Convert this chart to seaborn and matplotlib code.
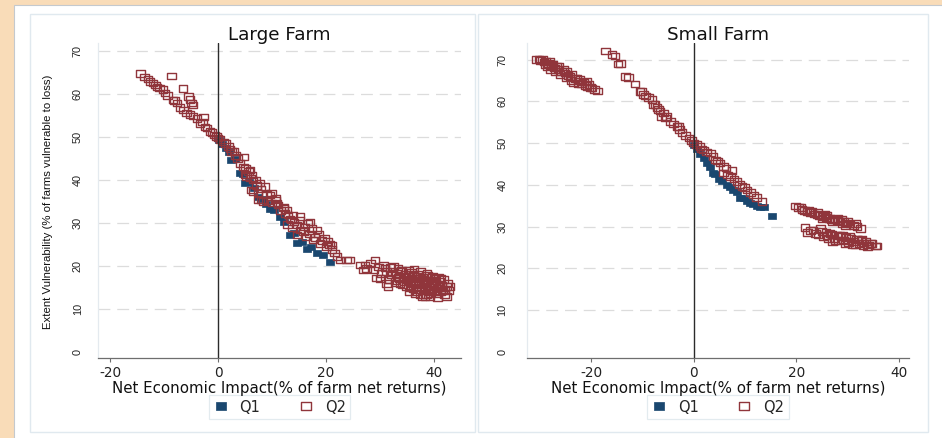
import matplotlib
matplotlib.use("Agg")
import matplotlib.pyplot as plt
from matplotlib.path import Path
from matplotlib.patches import Rectangle
from matplotlib.lines import Line2D
import pandas as pd
import seaborn as sns

# ---------------------------------------------------------------- data
panel_titles = ["Large Farm", "Small Farm"]
group_labels = ["Q1", "Q2"]
x_ticks = [-20, 0, 20, 40]
y_ticks = [0, 10, 20, 30, 40, 50, 60, 70]

large_q1_x = [0.2, 0.8, 1.4, 2.0, 2.5, 3.2, 4.1, 4.6, 5.0, 5.8, 6.6, 7.5, 8.2, 8.9,
              9.6, 10.4, 11.5, 12.2, 13.3, 14.0, 14.6, 15.5, 16.4, 17.3, 18.3, 19.4,
              20.7]
large_q1_y = [49.3, 48.4, 47.4, 46.4, 44.7, 44.8, 41.5, 41.4, 39.2, 39.4, 38.0, 36.0,
              35.6, 34.4, 33.3, 33.0, 31.4, 30.2, 27.1, 27.6, 25.2, 25.6, 24.0, 24.3,
              22.9, 22.6, 20.9]

large_q2_x = [-14.4, -13.6, -13.0, -12.6, -12.0, -11.6, -11.3, -10.8, -10.2, -9.8,
              -9.3, -8.6, -8.3, -8.1, -7.6, -7.0, -6.5, -5.5, -5.2, -4.9, -4.6, -6.4,
              -5.8, -5.2, -4.6, -3.9, -2.7, -3.3, -2.9, -2.4, -2.0, -1.5, -1.1, -0.6,
              -0.3, 0.0, 0.4, 1.0, 1.4, 1.9, 2.2, 2.5, 3.0, 4.7, 3.2, 3.6, 4.1, 4.7,
              5.1, 5.6, 5.9, 6.2, 5.3, 6.5, 6.9, 7.8, 8.7, 6.2, 6.5, 7.4, 7.4, 8.1,
              8.3, 9.6, 9.9, 10.6, 10.6, 10.9, 11.1, 12.1, 12.1, 12.7, 13.0, 13.9,
              13.6, 15.2, 15.2, 17.0, 14.6, 15.2, 14.6, 15.8, 16.3, 16.9, 17.6, 18.3,
              18.0, 18.9, 19.3, 20.1, 20.6, 21.1, 21.6, 22.0, 22.6, 23.8, 24.4, 26.3,
              27.2, 26.9, 27.5, 28.8, 29.1, 29.4, 30.3, 30.6, 30.9, 31.2, 31.5, 31.2,
              32.0, 32.5, 32.8, 33.1, 33.4, 33.7, 34.0, 34.3, 34.6, 34.9, 35.2, 35.5,
              35.8, 36.1, 36.4, 36.8, 36.7, 37.0, 37.3, 37.6, 37.9, 38.2, 38.3, 38.6,
              38.5, 38.8, 39.1, 39.4, 39.5, 39.8, 40.0, 40.3, 40.5, 40.7, 41.0, 41.2,
              41.5, 41.8, 42.0, 42.3, 42.3, 42.6, 43.0, 33.6, 35.0, 36.0, 37.2, 38.0,
              39.0, 39.9, 40.8, 36.5, 37.8,
              33.0, 33.8, 34.2, 34.8, 35.3, 35.6, 36.2, 36.6, 37.1, 37.5, 38.1, 38.4,
              38.9, 39.2, 39.6, 40.1, 40.4, 40.9, 41.3, 41.6, 35.9, 36.9, 37.7, 38.7,
              39.7, 34.5, 33.3, 32.3, 31.7, 31.9, 30.0, 29.7, 28.2, 35.4, 37.4, 39.3,
              40.6, 41.9, 42.8, 36.3,
              5.0, 6.0, 7.1, 8.0, 9.0, 9.3, 10.0, 11.6, 12.4, 13.3, 14.1, 16.0, 16.6,
              17.3, 18.6, 19.7, 20.3, 21.0, 12.9, 13.8]
large_q2_y = [64.7, 63.9, 63.4, 62.8, 62.5, 62.0, 61.6, 61.3, 61.0, 60.2, 59.6, 64.1,
              58.5, 58.4, 57.8, 56.8, 61.2, 59.3, 58.6, 57.8, 57.4, 56.2, 55.5, 55.2,
              54.8, 54.3, 54.6, 53.1, 53.4, 52.3, 52.0, 51.2, 51.0, 50.4, 50.1, 49.7,
              49.4, 48.8, 48.4, 47.7, 47.1, 46.5, 46.7, 45.3, 45.6, 44.9, 43.8, 43.0,
              42.6, 41.9, 42.3, 41.1, 40.7, 39.9, 39.9, 39.2, 38.4, 37.6, 37.2, 36.9,
              35.3, 35.3, 34.9, 36.4, 36.9, 35.7, 35.3, 34.6, 34.1, 33.7, 33.4, 33.0,
              31.8, 31.8, 30.6, 31.4, 30.6, 30.2, 29.5, 28.3, 27.1, 28.0, 26.7, 27.4,
              26.0, 28.3, 26.6, 25.2, 25.8, 24.4, 24.9, 23.7, 23.0, 22.1, 21.3, 21.3,
              21.3, 20.2, 20.2, 19.0, 19.4, 19.0, 21.3, 17.1, 18.2, 20.2, 19.5, 15.9,
              15.1, 18.6, 17.8, 19.8, 16.4, 18.2, 17.3, 15.8, 19.0, 16.9, 18.0, 15.2,
              17.5, 16.2, 18.4, 14.6, 17.0, 14.0, 15.7, 18.1, 16.3, 15.0, 17.4, 14.2,
              12.8, 13.2, 16.0, 17.7, 15.3, 13.6, 16.6, 14.6, 17.0, 15.8, 13.6, 14.8,
              16.3, 13.9, 15.5, 16.8, 14.4, 15.1, 12.8, 16.0, 15.1, 17.0, 16.7, 15.9,
              17.0, 15.6, 16.4, 15.4, 17.3, 13.5, 12.9,
              16.0, 18.6, 15.6, 17.2, 19.0, 14.9, 18.0, 16.5, 14.4, 18.6, 16.8, 14.8,
              13.9, 17.2, 15.7, 14.0, 16.6, 15.1, 17.0, 14.2, 17.1, 17.6, 16.1, 18.2,
              17.6, 16.3, 19.3, 18.6, 16.8, 19.6, 17.0, 19.7, 20.6, 13.9, 13.3, 12.9,
              12.6, 13.3, 14.2, 19.2,
              41.2, 40.4, 38.6, 37.8, 36.6, 35.2, 34.6, 32.9, 32.2, 30.9, 30.2, 29.0,
              29.8, 28.6, 27.4, 26.4, 25.6, 24.8, 29.6, 28.8]

small_q1_x = [0.0, 0.6, 1.2, 1.9, 2.6, 3.1, 3.8, 4.2, 4.8, 5.5, 6.4, 7.0, 7.7, 8.4,
              9.0, 9.7, 10.3, 11.0, 11.6, 12.3, 12.9, 13.6, 15.2]
small_q1_y = [49.6, 48.6, 47.4, 46.4, 45.2, 44.3, 42.8, 42.6, 41.5, 40.8, 40.0, 39.4,
              38.8, 38.4, 36.8, 36.8, 36.2, 35.6, 35.4, 35.0, 34.6, 34.6, 32.6]

small_q2_x = [-30.7, -30.2, -29.9, -29.6, -29.3, -28.9, -28.7, -28.4, -28.1, -27.8,
              -27.5, -27.2, -26.8, -26.5, -26.3, -26.1, -25.8, -25.5, -25.2, -24.9,
              -24.6, -24.2, -23.9, -23.5, -23.2, -22.9, -22.6, -22.2, -21.9, -21.6,
              -21.2, -20.9, -20.5, -20.2, -19.9, -19.4, -18.8, -28.0, -25.0, -24.0,
              -27.0, -29.0, -22.5, -21.0,
              -17.3, -16.0, -15.4, -14.8, -14.3, -13.4, -12.8, -11.5, -10.5, -10.2,
              -9.8, -9.5, -8.9, -8.2, -7.9, -7.6, -7.2, -6.9, -6.6, -5.9, -6.3, -5.5,
              -5.3, -4.6, -4.0, -3.3, -3.0, -2.8, -2.3, -1.6, -1.0, -0.5, -0.1, 0.5,
              1.2, 1.5, 1.9, 2.5, 3.2, 3.7, 4.2, 4.6, 5.1, 5.8, 6.3, 7.4, 5.8, 6.5,
              7.1, 7.8, 8.4, 8.9, 9.4, 9.9, 10.4, 11.0, 11.6, 12.2, 13.3,
              19.8, 20.4, 21.1, 21.6, 22.1, 22.8, 23.4, 24.0, 24.5, 25.3, 25.9, 26.5,
              27.3, 27.9, 28.5, 29.2, 29.8, 30.5, 31.2, 31.8, 32.5, 22.5, 24.2, 26.0,
              28.0, 30.0, 25.0, 27.0, 29.0, 20.9, 23.0, 25.6, 28.8, 31.5, 26.9, 29.6,
              21.7, 22.7, 22.2, 23.7, 24.7, 24.2, 25.3, 25.8, 26.3, 26.8, 27.3, 27.8,
              28.2, 28.7, 29.2, 29.7, 30.2, 30.7, 31.2, 31.7, 32.2, 32.6, 33.1, 33.6,
              34.1, 34.5, 35.4, 35.7, 26.0, 29.0, 31.0, 33.0, 27.5, 30.0, 32.0,
              23.2, 25.0, 26.6, 28.4, 30.4, 32.8, 34.8, 27.0, 29.5, 31.5, 33.9]
small_q2_y = [70.1, 70.2, 69.8, 70.0, 69.4, 69.6, 68.3, 69.1, 69.5, 68.6, 68.9, 68.0,
              68.3, 67.7, 68.4, 66.4, 67.2, 67.6, 66.8, 67.1, 66.2, 66.0, 66.6, 64.4,
              65.5, 65.6, 64.9, 65.2, 64.3, 64.7, 63.8, 63.5, 64.0, 63.4, 63.2, 62.9,
              62.5, 67.5, 65.8, 65.0, 67.2, 68.8, 64.2, 64.8,
              72.1, 71.3, 70.9, 69.0, 69.1, 66.0, 65.8, 64.2, 62.4, 62.4, 61.6, 61.3,
              61.0, 60.4, 59.2, 59.2, 58.6, 58.0, 57.7, 57.2, 56.4, 56.0, 56.4, 55.2,
              54.6, 54.0, 54.0, 53.2, 52.5, 51.8, 51.2, 50.6, 50.0, 49.6, 49.2, 48.6,
              48.4, 47.9, 47.6, 46.8, 46.0, 45.7, 45.2, 44.4, 44.0, 43.4, 42.8, 42.4,
              42.0, 41.4, 40.8, 40.1, 39.6, 39.3, 38.8, 38.2, 37.6, 37.0, 36.0,
              34.9, 34.5, 34.1, 33.9, 33.6, 33.3, 33.0, 32.9, 32.6, 32.4, 32.1, 32.0,
              31.7, 31.5, 31.3, 31.2, 30.9, 30.6, 30.3, 30.0, 29.6, 34.0, 33.4, 32.6,
              31.9, 31.2, 31.9, 31.2, 30.6, 34.6, 33.6, 32.9, 31.8, 30.7, 31.6, 30.2,
              29.8, 29.0, 28.6, 28.4, 29.6, 28.0, 27.6, 28.7, 27.0, 28.2, 27.2, 28.0,
              26.6, 27.6, 26.8, 27.4, 26.2, 27.2, 26.4, 26.9, 25.9, 26.6, 26.1, 26.4,
              25.6, 26.0, 25.3, 25.3, 27.8, 27.9, 25.7, 25.5, 26.5, 26.5, 27.0,
              29.2, 28.8, 28.4, 27.9, 27.6, 26.9, 25.9, 26.4, 26.0, 25.6, 25.2]

# ---------------------------------------------------------------- style
NAVY = "#1a476f"
MAROON = "#90353b"
GRID = "#dcdcdc"

sns.set_theme(style="white")
plt.rcParams["font.family"] = ["DejaVu Sans"]

W, H = 942, 438
fig = plt.figure(figsize=(W / 100, H / 100), dpi=100)
fig.patch.set_facecolor("#f9dcb8")


def px_box(x0, y0, x1, y1, **kw):
    fig.add_artist(Rectangle((x0 / W, 1 - y1 / H), (x1 - x0) / W, (y1 - y0) / H,
                             transform=fig.transFigure, zorder=-10, **kw))


px_box(14, 5, 945, 441, facecolor="white", edgecolor="#c4c9ce", lw=0.8)
px_box(30, 14, 475, 432, facecolor="white", edgecolor="#e0e9ef", lw=1.0)
px_box(478, 14, 928, 432, facecolor="white", edgecolor="#e0e9ef", lw=1.0)

# rectangular marker, a little wider than tall
rect_marker = Path([(-1.3, -1), (1.3, -1), (1.3, 1), (-1.3, 1), (-1.3, -1)],
                   [Path.MOVETO, Path.LINETO, Path.LINETO, Path.LINETO, Path.CLOSEPOLY])

panels = [
    dict(px=(98, 461), xlim=(-22.22, 45.0), ylim=(-1.47, 71.8), ypad=11,
         q1=(large_q1_x, large_q1_y), q2=(large_q2_x, large_q2_y)),
    dict(px=(527, 909), xlim=(-32.58, 41.98), ylim=(-1.51, 74.0), ypad=14,
         q1=(small_q1_x, small_q1_y), q2=(small_q2_x, small_q2_y)),
]

for title, p in zip(panel_titles, panels):
    x0, x1 = p["px"]
    ax = fig.add_axes([x0 / W, 1 - 358 / H, (x1 - x0) / W, (358 - 43) / H])
    ax.set_facecolor("none")

    q1 = pd.DataFrame({"x": p["q1"][0], "y": p["q1"][1], "group": group_labels[0]})
    q2 = pd.DataFrame({"x": p["q2"][0], "y": p["q2"][1], "group": group_labels[1]})

    sns.scatterplot(data=q1, x="x", y="y", ax=ax, marker=rect_marker, s=36,
                    color=NAVY, edgecolor=NAVY, linewidth=0.5, legend=False, zorder=3)
    sns.scatterplot(data=q2, x="x", y="y", ax=ax, marker=rect_marker, s=38,
                    color=MAROON, linewidth=1.0, legend=False, zorder=4)
    coll = ax.collections[-1]
    coll.set_facecolor("none")
    coll.set_edgecolor(MAROON)

    ax.set_xlim(*p["xlim"])
    ax.set_ylim(*p["ylim"])

    for v in y_ticks[1:]:
        ax.axhline(v, color=GRID, lw=0.9, dashes=(9.5, 5.5), zorder=1)
    ax.axvline(0, color="#2b2b2b", lw=1.0, zorder=5)

    for side in ("top", "right"):
        ax.spines[side].set_visible(False)
    ax.spines["bottom"].set_color("#6e6e6e")
    ax.spines["bottom"].set_linewidth(0.9)
    ax.spines["left"].set_color("#e4eaef")
    ax.spines["left"].set_linewidth(0.9)

    ax.set_xticks(x_ticks)
    ax.set_xticklabels([str(t) for t in x_ticks], fontsize=9.8, color="#222222")
    ax.tick_params(axis="x", bottom=True, length=3, width=0.8, color="#6e6e6e", pad=2.5)
    ax.set_yticks(y_ticks)
    ax.set_yticklabels([str(t) for t in y_ticks], rotation=90, va="center",
                       fontsize=7.8, family=["Liberation Sans", "DejaVu Sans"],
                       color="#222222")
    ax.tick_params(axis="y", left=False, length=0, pad=p["ypad"])
    ax.set_xlabel("")
    ax.set_ylabel("")

    cx = (x0 + x1) / 2
    fig.text(cx / W, 1 - 39.5 / H, title, ha="center", va="baseline",
             fontsize=13.2, color="#111111")
    fig.text(cx / W, 1 - 393.5 / H, "Net Economic Impact(% of farm net returns)",
             ha="center", va="baseline", fontsize=10.8, color="#111111")

    handles = [
        Line2D([], [], ls="none", marker=rect_marker, markersize=7,
               markerfacecolor=NAVY, markeredgecolor=NAVY, markeredgewidth=0.5),
        Line2D([], [], ls="none", marker=rect_marker, markersize=7,
               markerfacecolor="none", markeredgecolor=MAROON, markeredgewidth=1.0),
    ]
    leg = ax.legend(handles, group_labels, ncol=2, loc="center",
                    bbox_to_anchor=(0.5, -(407 - 358) / 315), frameon=True,
                    fancybox=False, fontsize=10.5, handlelength=1.0,
                    handletextpad=0.8, columnspacing=2.6, borderpad=0.3)
    leg.get_frame().set_edgecolor("#dde6ec")
    leg.get_frame().set_linewidth(0.9)

fig.text(48 / W, 1 - 202 / H, "Extent Vulnerability (% of farms vulnerable to loss)",
         rotation=90, ha="center", va="center", fontsize=8.2,
         family=["Liberation Sans", "DejaVu Sans"], color="#111111")

fig.savefig("out.png", dpi=100, facecolor=fig.get_facecolor())
